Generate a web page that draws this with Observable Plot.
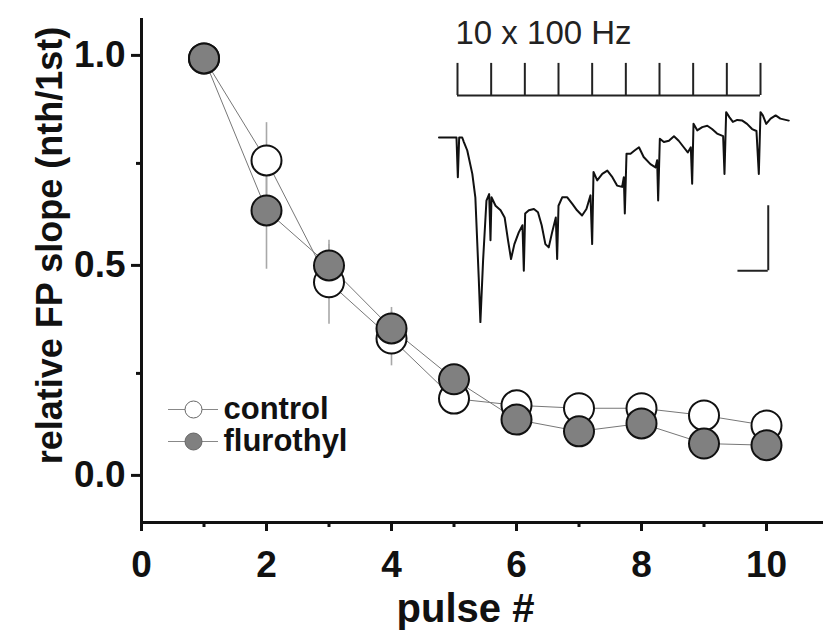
<!DOCTYPE html>
<html>
<head>
<meta charset="utf-8">
<script src="https://cdn.jsdelivr.net/npm/d3@7"></script>
<script src="https://cdn.jsdelivr.net/npm/@observablehq/plot@0.6"></script>
<style>
  body { margin: 0; background: white; }
  #wrap { position: relative; width: 823px; height: 632px; font-family: "Liberation Sans", Arial, sans-serif; }
  #wrap > svg { position: absolute; left: 0; top: 0; }
</style>
</head>
<body>
<div id="wrap"></div>
<script>
// ---- data ----
const pulses = [1, 2, 3, 4, 5, 6, 7, 8, 9, 10];
const controlMean   = [1.0, 0.757, 0.467, 0.333, 0.190, 0.174, 0.167, 0.167, 0.150, 0.126];
const controlSem    = [0.0, 0.090, 0.100, 0.065, 0.030, 0.020, 0.020, 0.020, 0.020, 0.020];
const flurothylMean = [1.0, 0.638, 0.507, 0.357, 0.236, 0.140, 0.112, 0.131, 0.083, 0.079];
const flurothylSem  = [0.0, 0.140, 0.050, 0.050, 0.030, 0.020, 0.020, 0.020, 0.020, 0.020];
const seriesNames = ["control", "flurothyl"];
const xTicks = [0, 2, 4, 6, 8, 10];
const xMinorTicks = [1, 3, 5, 7, 9];
const yTicks = [0.0, 0.5, 1.0];
const yMinorTicks = [0.25, 0.75];
const xLabel = "pulse #";
const yLabel = "relative FP slope (nth/1st)";

// inset: field potential trace (time in ms, amplitude in arbitrary mV)
const traceT = [-5.5,-0.3,0.1,0.5,1.4,1.9,2.9,4.4,5.3,6.3,6.8,7.6,8.6,9.4,9.8,10.1,11.3,12.8,14.0,15.0,15.9,16.9,18.2,19.3,19.7,20.1,21.2,22.7,23.9,25.0,26.1,27.1,28.1,29.2,29.6,30.0,31.1,32.6,34.1,35.5,37.0,38.3,39.5,40.0,40.4,41.5,43.0,44.5,46.0,47.4,48.9,49.4,49.7,50.2,51.4,52.6,53.9,55.3,57.3,58.8,59.3,59.6,60.1,61.3,62.8,64.3,65.7,67.2,68.4,69.3,69.7,70.1,71.2,72.7,74.2,75.6,77.1,78.9,79.3,79.8,80.8,81.8,83.1,84.6,86.0,87.5,88.8,89.5,90.0,90.7,91.7,93.0,94.5,95.9,98.4];
const traceV = [0,0,-0.61,0,0,-0.07,-0.2,-0.56,-0.92,-2.15,-2.84,-1.89,-0.97,-0.87,-1.58,-0.92,-1.05,-1.12,-1.23,-1.58,-1.87,-1.64,-1.46,-1.35,-2.05,-1.17,-1.12,-1.10,-1.15,-1.35,-1.64,-1.69,-1.46,-1.23,-1.87,-1.05,-0.92,-0.92,-1.02,-1.12,-1.2,-1.10,-0.89,-1.64,-0.53,-0.66,-0.56,-0.51,-0.61,-0.74,-0.76,-0.61,-1.17,-0.25,-0.25,-0.2,-0.15,-0.30,-0.41,-0.46,-0.35,-0.97,-0.02,-0.07,-0.05,0.02,-0.05,-0.15,-0.23,-0.15,-0.71,0.21,0.11,0.16,0.18,0.13,0.06,0.02,-0.56,0.39,0.31,0.24,0.27,0.26,0.21,0.13,0.10,-0.56,0.39,0.34,0.21,0.29,0.34,0.29,0.26];
const stimTimes = [0, 10, 20, 30, 40, 50, 60, 70, 80, 90];
const stimLabel = "10 x 100 Hz";
const stimBaseV = 0.646, stimTopV = 1.14;
const scaleBarMs = 9, scaleBarMv = 1;
const scaleBarCornerT = 92.3, scaleBarCornerV = -2.05;

// ---- build tables ----
const control = pulses.map((p, i) => ({pulse: p, mean: controlMean[i], sem: controlSem[i]}));
const flurothyl = pulses.map((p, i) => ({pulse: p, mean: flurothylMean[i], sem: flurothylSem[i]}));
const trace = traceT.map((t, i) => ({t, v: traceV[i]}));

const FONT = '"Liberation Sans", Arial, sans-serif';
const wrap = document.getElementById("wrap");
const GREY = "#808080";
const R = 15;

const yMin = -0.105, yMax = 1.095;

const main = Plot.plot({
  width: 823, height: 632,
  marginLeft: 141, marginRight: 0, marginTop: 18, marginBottom: 110,
  style: {fontFamily: FONT, background: "white", color: "#111"},
  x: {domain: [0, 10.912], axis: null},
  y: {domain: [yMin, yMax], axis: null},
  marks: [
    // axes
    Plot.ruleX([0], {stroke: "#111", strokeWidth: 3}),
    Plot.ruleY([yMin], {stroke: "#111", strokeWidth: 3}),
    Plot.axisY(yTicks, {tickSize: 10, tickPadding: 6, strokeWidth: 3, stroke: "#111", fill: "#111", tickFormat: d3.format(".1f"), fontSize: 37, fontWeight: "bold", dy: -3, label: null}),
    Plot.axisY(yMinorTicks, {tickSize: 5, strokeWidth: 3, stroke: "#111", tickFormat: () => "", label: null}),
    Plot.axisX(xTicks, {tickSize: 9, tickPadding: 19, strokeWidth: 3, stroke: "#111", fill: "#111", fontSize: 37, fontWeight: "bold", label: null}),
    Plot.axisX(xMinorTicks, {tickSize: 5, strokeWidth: 3, stroke: "#111", tickFormat: () => "", label: null}),
    // titles
    Plot.text([yLabel], {text: d => d, frameAnchor: "left", textAnchor: "middle", lineAnchor: "middle", rotate: -90, dx: -91, dy: -25, fontSize: 36, fontWeight: "bold", fill: "#111"}),
    Plot.text([xLabel], {text: d => d, frameAnchor: "bottom", textAnchor: "middle", lineAnchor: "middle", dx: -17, dy: 87, fontSize: 40, fontWeight: "bold", fill: "#111"}),
    // connecting lines
    Plot.line(control, {x: "pulse", y: "mean", stroke: "#777", strokeWidth: 1}),
    Plot.line(flurothyl, {x: "pulse", y: "mean", stroke: "#777", strokeWidth: 1}),
    // error bars
    Plot.ruleX(control, {x: "pulse", y1: d => d.mean - d.sem, y2: d => d.mean + d.sem, stroke: "#a8a8a8", strokeWidth: 1.6}),
    Plot.ruleX(flurothyl, {x: "pulse", y1: d => d.mean - d.sem, y2: d => d.mean + d.sem, stroke: "#a8a8a8", strokeWidth: 1.6}),
    // symbols
    Plot.dot(control, {x: "pulse", y: "mean", r: R, fill: "white", stroke: "#111", strokeWidth: 2}),
    Plot.dot(flurothyl, {x: "pulse", y: "mean", r: R, fill: GREY, stroke: "#111", strokeWidth: 2})
  ]
});
wrap.appendChild(main);

// inset trace
const inset = Plot.plot({
  width: 823, height: 632,
  style: {fontFamily: FONT, background: "transparent", color: "#111"},
  x: {domain: [0, 90], range: [457, 760], axis: null},
  y: {domain: [0, -1], range: [137, 202], axis: null},
  marks: [
    Plot.line(trace, {x: "t", y: "v", stroke: "#111", strokeWidth: 2, curve: "linear"}),
    Plot.ruleX(stimTimes, {x: d => d, y1: stimBaseV, y2: stimTopV, stroke: "#222", strokeWidth: 2}),
    Plot.ruleY([stimBaseV], {x1: stimTimes[0], x2: stimTimes[stimTimes.length - 1], stroke: "#222", strokeWidth: 2}),
    Plot.text([stimLabel], {text: d => d, x: stimTimes[0], y: stimTopV, dy: -30, dx: -2, textAnchor: "start", lineAnchor: "middle", fontSize: 33, fill: "#222"}),
    Plot.ruleX([scaleBarCornerT], {x: d => d, y1: scaleBarCornerV, y2: scaleBarCornerV + scaleBarMv, stroke: "#222", strokeWidth: 2}),
    Plot.ruleY([scaleBarCornerV], {y: d => d, x1: scaleBarCornerT - scaleBarMs, x2: scaleBarCornerT, stroke: "#222", strokeWidth: 2})
  ]
});
wrap.appendChild(inset);

// legend
const legend = Plot.plot({
  width: 823, height: 632,
  marginLeft: 168, marginRight: 823 - 218,
  style: {fontFamily: FONT, background: "transparent", color: "#111"},
  y: {type: "point", domain: seriesNames, range: [409, 441], padding: 0, axis: null},
  marks: [
    Plot.tickY(seriesNames, {y: d => d, stroke: "#888", strokeWidth: 1}),
    Plot.dot([seriesNames[0]], {y: d => d, r: 8.5, fill: "white", stroke: "#666", strokeWidth: 1}),
    Plot.dot([seriesNames[1]], {y: d => d, r: 8.5, fill: GREY, stroke: "#666", strokeWidth: 1}),
    Plot.text(seriesNames, {text: d => d, y: d => d, frameAnchor: "right", dx: 5, textAnchor: "start", lineAnchor: "middle", fontSize: 31, fontWeight: "bold", fill: "#111"})
  ]
});
wrap.appendChild(legend);
</script>
</body>
</html>
